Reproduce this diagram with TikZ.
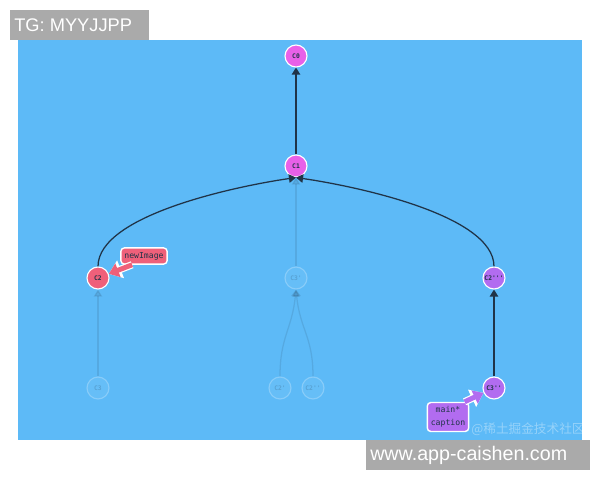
\documentclass[tikz,border=0pt]{standalone}
\usepackage{fontspec}
\setmainfont{Liberation Sans}
\setmonofont{DejaVu Sans Mono}
\newfontfamily\cjk{Noto Sans CJK SC}
\usetikzlibrary{arrows.meta}

\definecolor{skyblue}{RGB}{93,186,247}
\definecolor{edgecol}{RGB}{32,52,72}
\definecolor{magentac}{RGB}{232,96,232}
\definecolor{redc}{RGB}{239,96,122}
\definecolor{purplec}{RGB}{178,108,240}
\definecolor{grayc}{RGB}{170,170,170}

\tikzset{
  commit/.style={circle, draw=white, line width=0.8pt, minimum size=0.55cm, inner sep=0pt,
    font=\ttfamily\bfseries\fontsize{4.5}{5}\selectfont, text=edgecol},
  ghost/.style={commit, draw opacity=0.25, fill=white, fill opacity=0.06, text opacity=0.2},
  edge/.style={draw=edgecol, line width=0.9pt, -{Triangle[width=6pt,length=5pt]}},
  faded/.style={edge, opacity=0.12},
  tag/.style={rounded corners=2.5pt, draw=white, line width=1pt, inner xsep=2.5pt, inner ysep=3pt,
    align=center, font=\ttfamily\fontsize{5.8}{9}\selectfont, text=edgecol},
  tagarrow/.style={line width=3.5pt, -{Triangle[width=10pt,length=7pt]},
    preaction={draw=white, line width=5.2pt, -{Triangle[width=13pt,length=9pt]}}},
}

\begin{document}
\begin{tikzpicture}

\useasboundingbox (0,0) rectangle (15,12);
\fill[skyblue] (0.45,1.0) rectangle (14.55,11.0);

% commits
\node[commit, fill=magentac] (C0) at (7.4,10.6) {C0};
\node[commit, fill=magentac] (C1) at (7.4,7.85) {C1};
\node[commit, fill=redc] (C2) at (2.45,5.05) {C2};
\node[ghost] (C3p) at (7.4,5.05) {C3'};
\node[commit, fill=purplec] (C2ppp) at (12.35,5.05) {C2'''};
\node[ghost] (C3) at (2.45,2.3) {C3};
\node[ghost] (C2p) at (7.0,2.3) {C2'};
\node[ghost] (C2pp) at (7.825,2.3) {C2''};
\node[commit, fill=purplec] (C3pp) at (12.35,2.3) {C3''};

% parents
\draw[edge] (C1) -- (C0);
\draw[edge] (C2.north) .. controls +(0,1.3) and +(-1.4,-0.2) .. (C1.south);
\draw[edge] (C2ppp.north) .. controls +(0,1.3) and +(1.4,-0.2) .. (C1.south);
\draw[edge] (C3pp) -- (C2ppp);
\draw[faded] (C3p) -- (C1);
\draw[faded] (C3) -- (C2);
\draw[faded] (C2p.north) .. controls +(0,1.0) and +(-0.1,-1.0) .. (C3p.south);
\draw[faded] (C2pp.north) .. controls +(0,1.0) and +(0.1,-1.0) .. (C3p.south);

% branches
\node[tag, fill=redc] (newImage) at (3.6,5.6) {newImage};
\node[tag, fill=purplec] (caption) at (11.2,1.575) {main*\\caption};
\coordinate (newImageTail) at ([xshift=0.3cm]newImage.south west);
\coordinate (captionTail) at ([xshift=-0.12cm]caption.north east);
\draw[tagarrow, draw=redc] (newImageTail) -- (C2);
\draw[tagarrow, draw=purplec] (captionTail) -- (C3pp);

\node[font=\cjk\fontsize{9}{10}\selectfont, text=white, text opacity=0.35] (mark) at (13.2,1.27) {@稀土掘金技术社区};

% gray boxes
\fill[grayc] (0.25,11.0) rectangle (3.725,11.75);
\node[anchor=west, inner sep=0pt, text=white, font=\fontsize{13}{15}\selectfont] (tg) at (0.35,11.375) {TG: MYYJJPP};
\fill[grayc] (9.15,0.25) rectangle (14.75,1.0);
\node[anchor=west, inner sep=0pt, text=white, font=\fontsize{14}{16}\selectfont] (site) at (9.25,0.625) {www.app-caishen.com};

\end{tikzpicture}
\end{document}
